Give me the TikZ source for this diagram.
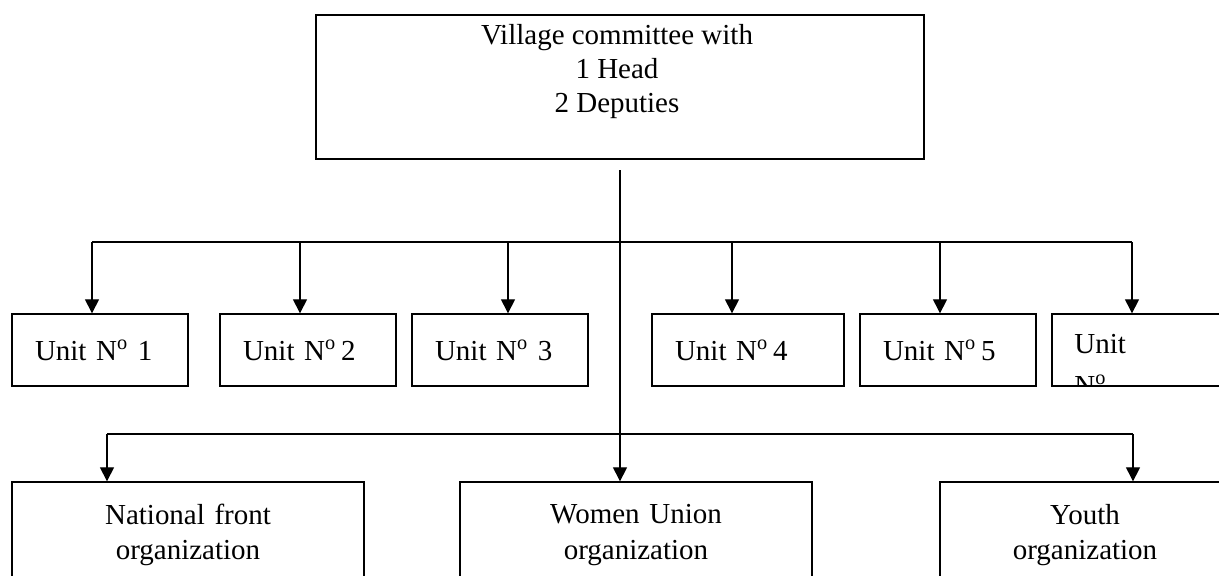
\documentclass[tikz,border=0pt]{standalone}
\usepackage{fontspec}
\setmainfont{Liberation Serif}
\usetikzlibrary{arrows.meta}
\tikzset{>={Triangle[width=8pt,length=8pt]}}
\tikzset{
    txt/.style = {inner sep=0pt, align=center, font=\fontsize{16.5}{19.5}\selectfont},
    box/.style = {draw, line width=0.8pt, inner sep=0pt},
    unit/.style = {box, inner xsep=0.46cm, minimum height=1.44cm, align=left,
                   font=\fontsize{16.5}{19.5}\selectfont},
    org/.style = {box, minimum height=2.12cm, align=center,
                  font=\fontsize{16.5}{20}\selectfont},
    link/.style = {line width=0.8pt}
}

\begin{document}
\begin{tikzpicture}[x=0.02cm, y=-0.02cm]
    \useasboundingbox (0,0) rectangle (1219,575);
    \clip (0,0) rectangle (1219,575);

    % committee
    \node[box, minimum width=12.16cm, minimum height=2.88cm] (cttee) at (620,87) {};
    \node[txt, anchor=north] (ctteetxt) at (617,24) {Village committee with\\1 Head\\2 Deputies};

    % units
    \foreach \n/\x/\w/\num in {1/100/2.6/{~1}, 2/308/2.6/{\,2}, 3/500/2.6/{~3},
                               4/748/2.92/{\,4}, 5/948/2.6/{\,5}}
        \node[unit, text width=\w cm] (u\n) at (\x,350) {Unit N\textsuperscript{o}\num};
    \node[unit, text width=2.6cm] (u6) at (1140,350) {};
    \begin{scope}
        \clip (u6.north west) rectangle (u6.south east);
        \node[txt, anchor=west] (u6a) at (1074,344) {Unit};
        \node[txt, anchor=west] (u6b) at (1074,385) {N\textsuperscript{o}};
    \end{scope}

    % organizations
    \node[org, text width=7.04cm] (nf) at (188,535) {National front\\organization};
    \node[org, text width=7.04cm] (wu) at (636,535) {Women Union\\organization};
    \node[org, text width=5.8cm] (youth) at (1085,535) {Youth\\organization};

    % connectors
    \coordinate (trunk) at (620,170);
    \coordinate (ubus) at (620,242);
    \coordinate (obus) at (620,434);
    \draw[link,->] (trunk) -- (trunk |- wu.north);

    \foreach \n/\dx in {1/-8, 2/-8, 3/8, 4/-16, 5/-8, 6/-8}{
        \path (u\n.north) ++(\dx,0) coordinate (a\n);
        \draw[link,->] (a\n |- ubus) -- (a\n);
    }
    \draw[link] (a1 |- ubus) -- (a6 |- ubus);

    \path (nf.north) ++(-81,0) coordinate (b1);
    \path (youth.north) ++(48,0) coordinate (b3);
    \draw[link] (b1 |- obus) -- (b3 |- obus);
    \draw[link,->] (b1 |- obus) -- (b1);
    \draw[link,->] (b3 |- obus) -- (b3);

\end{tikzpicture}
\end{document}
